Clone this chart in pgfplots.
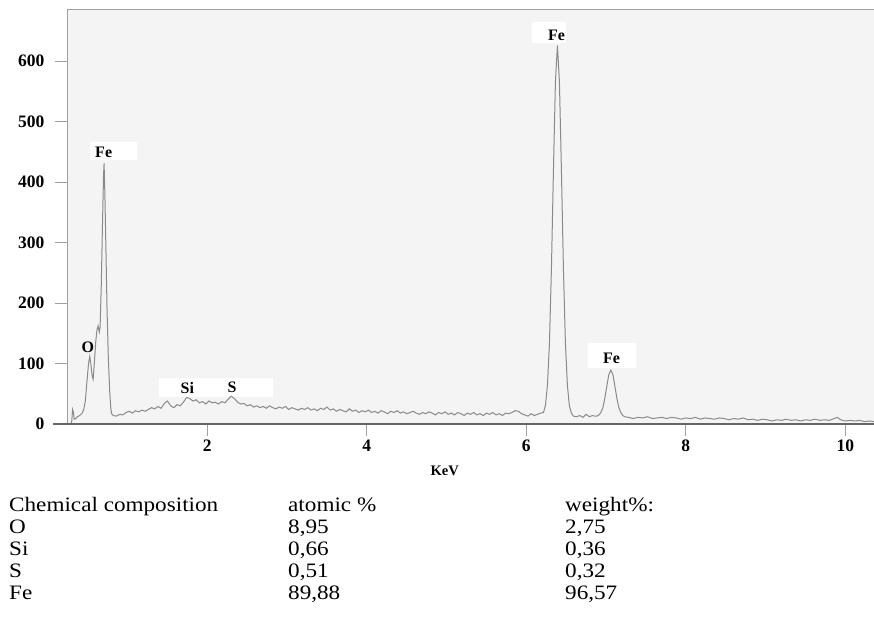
\documentclass[border=0pt]{standalone}
\usepackage{pgfplots}
\pgfplotsset{compat=1.18}
\usepackage{fontspec}
\setmainfont{Liberation Serif}
\newfontfamily\tabfont[FakeStretch=1.13]{Liberation Serif}
\definecolor{spec}{HTML}{8A8A8A}
\definecolor{frame}{HTML}{A0A0A0}
\definecolor{baseax}{HTML}{666666}
\definecolor{bgplot}{HTML}{F4F4F4}
\begin{document}
\begin{tikzpicture}
\path[use as bounding box] (0pt,0pt) rectangle (874pt,623pt);
\begin{axis}[
  at={(67pt,199pt)}, anchor=south west,
  scale only axis, width=807pt, height=415pt,
  xmin=0.24, xmax=10.36, ymin=0, ymax=686,
  xtick={2,4,6,8,10}, ytick={0,100,200,300,400,500,600},
  xtick pos=bottom, ytick pos=left,
  tick align=outside, major tick length=12pt,
  tick style={color=frame, line width=0.8pt},
  axis line style={draw=none},
  axis background/.style={fill=bgplot},
  /pgf/number format/assume math mode=true,
  ticklabel style={font=\fontsize{17.5}{17.5}\selectfont\bfseries},
  yticklabel style={xshift=-7pt},
  xlabel={KeV},
  xlabel style={at={(axis description cs:0.468,0)}, anchor=center, yshift=-47pt, font=\fontsize{14.5}{14.5}\selectfont\bfseries},
  clip=false,
]
% white label boxes
\fill[white] (axis cs:0.526,436) rectangle (axis cs:1.117,466);
\fill[white] (axis cs:1.39,45) rectangle (axis cs:2.82,76);
\fill[white] (axis cs:6.07,630) rectangle (axis cs:6.50,664);
\fill[white] (axis cs:6.77,93) rectangle (axis cs:7.38,134);
\addplot[color=spec, line width=1pt, mark=none] coordinates {
(0.29,0) (0.30,5) (0.31,24) (0.32,20) (0.33,8) (0.35,9) (0.37,12) (0.40,14) (0.43,18) (0.45,24) (0.47,38) (0.49,70) (0.51,100) (0.526,112) (0.54,98) (0.555,80) (0.568,74) (0.585,105) (0.60,135) (0.615,155) (0.63,162) (0.645,152) (0.655,160) (0.67,230) (0.685,330) (0.698,410) (0.705,431) (0.715,380) (0.728,290) (0.742,190) (0.758,110) (0.775,55) (0.79,25) (0.80,17)
(0.82,14) (0.86,13) (0.90,16) (0.94,15) (0.98,19) (1.02,21) (1.06,18) (1.10,22) (1.14,20) (1.18,23) (1.22,21) (1.26,24) (1.30,27) (1.34,25) (1.38,29) (1.42,26) (1.46,34) (1.50,38) (1.54,30) (1.58,27) (1.62,32) (1.66,30) (1.70,36) (1.74,44) (1.78,42) (1.82,38) (1.86,40) (1.90,35) (1.94,37) (1.98,33)
(2.02,38) (2.06,35) (2.10,36) (2.14,33) (2.18,37) (2.22,35) (2.26,41) (2.30,46) (2.34,42) (2.38,36) (2.42,33) (2.46,34) (2.50,30) (2.54,32) (2.58,28) (2.62,30) (2.66,27) (2.70,29) (2.74,26) (2.78,30) (2.82,27) (2.86,25) (2.90,28) (2.94,26) (2.98,29)
(3.02,24) (3.06,27) (3.10,25) (3.14,23) (3.18,26) (3.22,24) (3.26,27) (3.30,23) (3.34,25) (3.38,22) (3.42,26) (3.46,24) (3.50,28) (3.54,23) (3.58,25) (3.62,21) (3.66,24) (3.70,22) (3.74,20) (3.78,25) (3.82,21) (3.86,23) (3.90,19) (3.94,22) (3.98,20)
(4.02,23) (4.06,19) (4.10,21) (4.14,18) (4.18,22) (4.22,20) (4.26,17) (4.30,21) (4.34,19) (4.38,22) (4.42,18) (4.46,20) (4.50,17) (4.54,19) (4.58,21) (4.62,18) (4.66,16) (4.70,19) (4.74,17) (4.78,20) (4.82,18) (4.86,15) (4.90,19) (4.94,17) (4.98,20)
(5.02,16) (5.06,18) (5.10,15) (5.14,19) (5.18,17) (5.22,14) (5.26,18) (5.30,16) (5.34,19) (5.38,15) (5.42,17) (5.46,14) (5.50,18) (5.54,16) (5.58,19) (5.62,15) (5.66,17) (5.70,14) (5.74,18) (5.78,17) (5.82,19) (5.86,22) (5.90,21) (5.94,17) (5.98,15)
(6.02,13) (6.06,17) (6.10,14) (6.14,16) (6.18,18)
(6.215,19) (6.24,31) (6.265,64) (6.29,134) (6.315,258) (6.34,420) (6.365,566) (6.39,626) (6.415,566) (6.44,420) (6.465,258) (6.49,134) (6.515,64) (6.54,30) (6.565,18) (6.59,13)
(6.63,12) (6.67,14) (6.71,11) (6.75,16) (6.79,12) (6.83,14) (6.86,13)
(6.885,13) (6.91,15) (6.935,19) (6.96,27) (6.985,43) (7.01,63) (7.035,82) (7.06,89) (7.085,82) (7.11,63) (7.135,43) (7.16,27) (7.185,19) (7.21,14) (7.235,12)
(7.28,11) (7.34,9) (7.40,11) (7.46,10) (7.52,12) (7.58,9) (7.64,10) (7.70,11) (7.76,9) (7.82,11) (7.88,10) (7.94,8) (8.00,10) (8.06,9) (8.12,11) (8.18,8) (8.24,10) (8.30,9) (8.36,8) (8.42,10) (8.48,9) (8.54,7) (8.60,9) (8.66,8) (8.72,10) (8.78,7) (8.84,8) (8.90,6) (8.96,8)
(9.02,7) (9.08,5) (9.14,7) (9.20,6) (9.26,8) (9.32,6) (9.38,7) (9.44,5) (9.50,7) (9.56,6) (9.62,8) (9.68,6) (9.74,7) (9.80,6) (9.86,9) (9.90,11) (9.94,7) (10.00,5) (10.06,6) (10.12,5) (10.18,6) (10.24,4) (10.30,5) (10.36,4)
};
% element labels
\begin{scope}[every node/.style={font=\fontsize{16}{16}\selectfont\bfseries, inner sep=0pt}]
\node at (axis cs:0.70,449) {Fe};
\node at (axis cs:0.50,127) {O};
\node at (axis cs:1.75,60) {Si};
\node at (axis cs:2.31,60) {S};
\node at (axis cs:6.38,643) {Fe};
\node at (axis cs:7.07,109) {Fe};
\end{scope}
% frame lines
\draw[frame, line width=0.9pt] (rel axis cs:0,0) -- (rel axis cs:0,1) -- (rel axis cs:1,1);
\draw[baseax, line width=2.4pt] ([xshift=-14pt]rel axis cs:0,0) -- (rel axis cs:1,0);
\end{axis}
% composition table
\begin{scope}[every node/.style={anchor=base west, inner sep=0pt, font=\tabfont\fontsize{20.5}{20.5}\selectfont}]
\node at (9pt,111.3pt) {Chemical composition};
\node at (288pt,111.3pt) {atomic \%};
\node at (565pt,111.3pt) {weight\%:};
\node at (9pt,89.3pt) {O};
\node at (288pt,89.3pt) {8,95};
\node at (565pt,89.3pt) {2,75};
\node at (9pt,67.3pt) {Si};
\node at (288pt,67.3pt) {0,66};
\node at (565pt,67.3pt) {0,36};
\node at (9pt,45.3pt) {S};
\node at (288pt,45.3pt) {0,51};
\node at (565pt,45.3pt) {0,32};
\node at (9pt,23.3pt) {Fe};
\node at (288pt,23.3pt) {89,88};
\node at (565pt,23.3pt) {96,57};
\end{scope}
\end{tikzpicture}
\end{document}
